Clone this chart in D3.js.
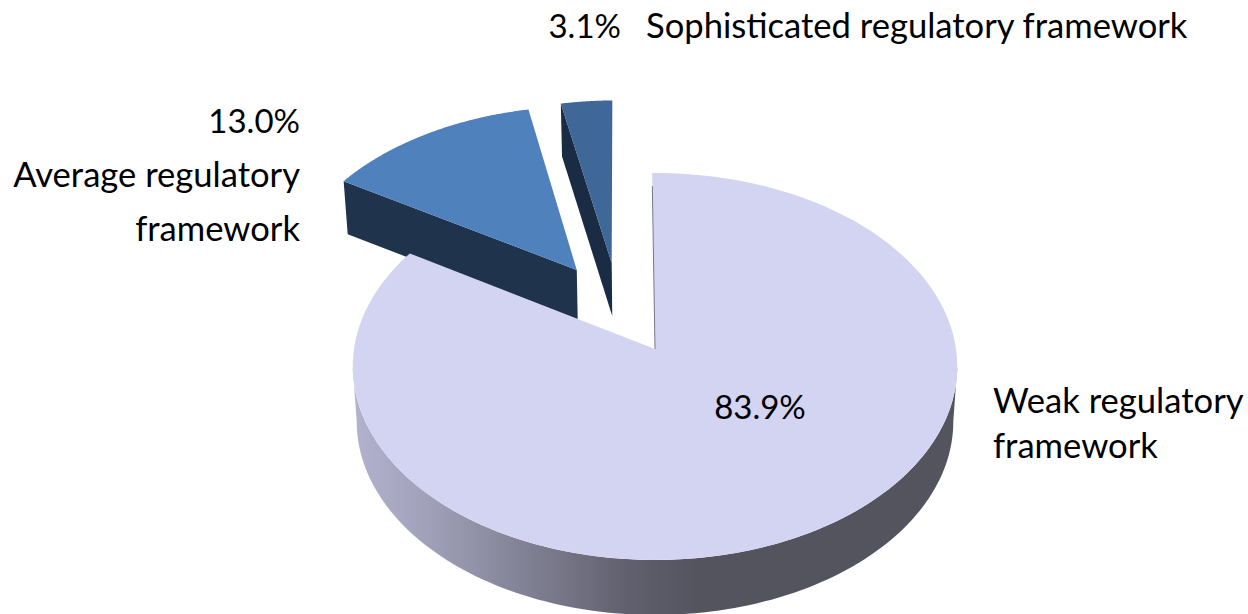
<!DOCTYPE html>
<html>
<head>
<meta charset="utf-8">
<script src="https://cdnjs.cloudflare.com/ajax/libs/d3/7.8.5/d3.min.js"></script>
<style>
  html, body { margin: 0; padding: 0; background: #fff; }
  svg { display: block; }
  text { font-family: Lato, "Open Sans", sans-serif; font-size: 34.6px; fill: #000; }
  text.num { font-size: 33px; }
</style>
</head>
<body>
<div id="chart"></div>
<script>
var categories = ["Weak regulatory framework", "Average regulatory framework", "Sophisticated regulatory framework"];
var shares = [83.9, 13.0, 3.1];
var shareLabels = ["83.9%", "13.0%", "3.1%"];
var topColors = ["#d3d4f1", "#4f81bd", "#3f6797"];
var sideColors = ["url(#rim)", "#1f344c", "#1a2c44"];

var width = 1248, height = 614;
var cx = 655, cy = 349;
var rx = 301, ry = 191.9;
var persp = 0.0904;     // tilt of the plate, far side is smaller
var depths = [55, 53, 53];
var shrink = 0.987;     // lower face is a bit narrower
var turn = -0.6 * Math.PI / 180;

// explode offsets in units of radius
var offsets = [[0, 0], [-0.27, 0.428], [-0.15, 0.467]];

var svg = d3.select("#chart").append("svg")
    .attr("width", width)
    .attr("height", height);

var grad = svg.append("defs").append("linearGradient")
    .attr("id", "rim")
    .attr("gradientUnits", "userSpaceOnUse")
    .attr("x1", 356).attr("x2", 958)
    .attr("y1", 0).attr("y2", 0);
[[0, "#b2b2cf"], [0.12, "#a0a0b9"], [0.33, "#78788a"], [0.45, "#60606e"], [0.57, "#54545f"], [1, "#54545f"]].forEach(function(s) {
    grad.append("stop").attr("offset", s[0]).attr("stop-color", s[1]);
});

var slices = d3.pie().sort(null)(shares);

function project(i, a, r) {
    var px = offsets[i][0] + r * Math.sin(a + turn);
    var py = offsets[i][1] + r * Math.cos(a + turn);
    var f = 1 / (1 + persp * py);
    return [cx + rx * px * f, cy - ry * py * f];
}

function lower(i, p) {
    return [cx + (p[0] - cx) * shrink, p[1] + depths[i]];
}

var line = d3.line();

function arcPoints(i, a0, a1) {
    return d3.range(0, 121).map(function(k) {
        return project(i, a0 + (a1 - a0) * k / 120, 1);
    });
}

// back to front: small slice, average slice, then the big plate on top
[2, 1].forEach(function(i) {
    var d = slices[i];
    var outer = project(i, d.startAngle, 1), apex = project(i, d.startAngle, 0);
    var g = svg.append("g");
    g.append("path")
        .attr("d", line([outer, apex, lower(i, apex), lower(i, outer)]) + "Z")
        .attr("fill", sideColors[i]);
    g.append("path")
        .attr("d", line([apex].concat(arcPoints(i, d.startAngle, d.endAngle))) + "Z")
        .attr("fill", topColors[i]);
});

var main = slices[0];
// rim runs between the widest points of the projected plate
var widest = Math.acos(-persp);
var front = arcPoints(0, widest - turn, 2 * Math.PI - widest - turn);
svg.append("path")
    .attr("d", line(front.concat(front.map(function(p) { return lower(0, p); }).reverse())) + "Z")
    .attr("fill", sideColors[0]);
svg.append("path")
    .attr("d", line([project(0, 0, 0)].concat(arcPoints(0, main.startAngle, main.endAngle))) + "Z")
    .attr("fill", topColors[0]);
svg.append("path")
    .attr("d", line([project(0, 0, 0), project(0, 0, 0.92)]))
    .attr("fill", "none")
    .attr("stroke", "#77778a")
    .attr("stroke-width", 1);

var labels = [
    {text: shareLabels[2], x: 621, y: 38, anchor: "end", num: true},
    {text: "Sophisticated regulatory framework", x: 646, y: 38, anchor: "start"},
    {text: shareLabels[1], x: 300, y: 133, anchor: "end", num: true},
    {text: "Average regulatory", x: 300, y: 187, anchor: "end"},
    {text: "framework", x: 300, y: 241, anchor: "end"},
    {text: shareLabels[0], x: 760, y: 419, anchor: "middle", num: true},
    {text: "Weak regulatory", x: 993, y: 413, anchor: "start"},
    {text: "framework", x: 993, y: 458, anchor: "start"}
];

svg.selectAll("text.label")
    .data(labels)
  .enter().append("text")
    .attr("class", function(d) { return d.num ? "label num" : "label"; })
    .attr("x", function(d) { return d.x; })
    .attr("y", function(d) { return d.y; })
    .attr("text-anchor", function(d) { return d.anchor; })
    .text(function(d) { return d.text; });
</script>
</body>
</html>
